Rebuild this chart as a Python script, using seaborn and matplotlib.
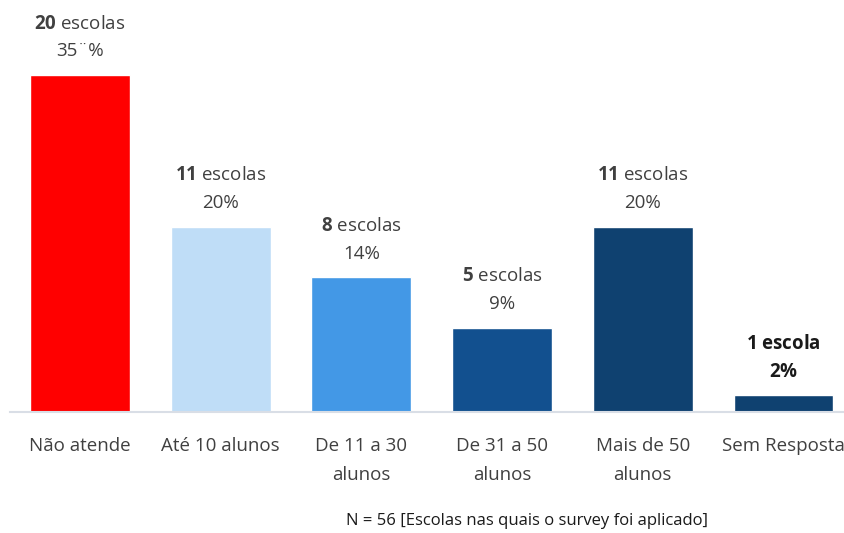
import matplotlib
matplotlib.use("Agg")
import matplotlib.pyplot as plt
import pandas as pd
import seaborn as sns

categories = ["Não atende", "Até 10 alunos", "De 11 a 30\nalunos", "De 31 a 50\nalunos",
              "Mais de 50\nalunos", "Sem Resposta"]
counts = [20, 11, 8, 5, 11, 1]
count_words = ["escolas", "escolas", "escolas", "escolas", "escolas", "escola"]
percents = ["35¨%", "20%", "14%", "9%", "20%", "2%"]
colors = ["#FF0000", "#BFDDF7", "#4398E6", "#12508F", "#0F4170", "#0F4170"]
note = "N = 56 [Escolas nas quais o survey foi aplicado]"

sns.set_style("white")
plt.rcParams["font.family"] = ["Open Sans", "DejaVu Sans"]
plt.rcParams["mathtext.fontset"] = "custom"
plt.rcParams["mathtext.rm"] = "Open Sans"
plt.rcParams["mathtext.bf"] = "Open Sans:bold"

df = pd.DataFrame({"cat": categories, "n": counts})

fig = plt.figure(figsize=(8.44, 5.33), dpi=100)
ax = fig.add_axes([10 / 844, 121 / 533, 834 / 844, 412 / 533])
sns.barplot(data=df, x="cat", y="n", hue="cat", palette=colors, width=0.71,
            saturation=1, legend=False, ax=ax)

ax.set_xlim(-0.4975, 5.43)
ax.set_ylim(0, 24.45)
ax.set_xlabel("")
ax.set_ylabel("")
ax.set_yticks([])
for s in ["top", "right", "left"]:
    ax.spines[s].set_visible(False)
ax.spines["bottom"].set_color("#D9DEE6")
ax.spines["bottom"].set_linewidth(1.5)
ax.tick_params(axis="x", length=0, pad=18, labelsize=13.5, labelcolor="#404040")
for lbl in ax.get_xticklabels():
    lbl.set_linespacing(1.75)
    lbl.set_verticalalignment("top")

text_color = "#404040"
for i, (n, w, p) in enumerate(zip(counts, count_words, percents)):
    last = i == len(counts) - 1
    if last:
        line1 = r"$\mathbf{%d}$ $\mathbf{%s}$" % (n, w)
        line2 = r"$\mathbf{%s}$" % p.replace("%", r"\%")
    else:
        line1 = r"$\mathbf{%d}$ %s" % (n, w)
        line2 = p
    ax.annotate(line2, (i, n), xytext=(0, 10.5), textcoords="offset points",
                ha="center", va="bottom", fontsize=13.5,
                color="#1A1A1A" if last else text_color)
    ax.annotate(line1, (i, n), xytext=(0, 30.5), textcoords="offset points",
                ha="center", va="bottom", fontsize=13.5,
                color="#1A1A1A" if last else text_color,
                annotation_clip=False)

fig.text(527 / 844, 1 - 521 / 533, note, ha="center", va="center",
         fontsize=12, color="#1A1A1A")

fig.savefig("out.png", dpi=100)
